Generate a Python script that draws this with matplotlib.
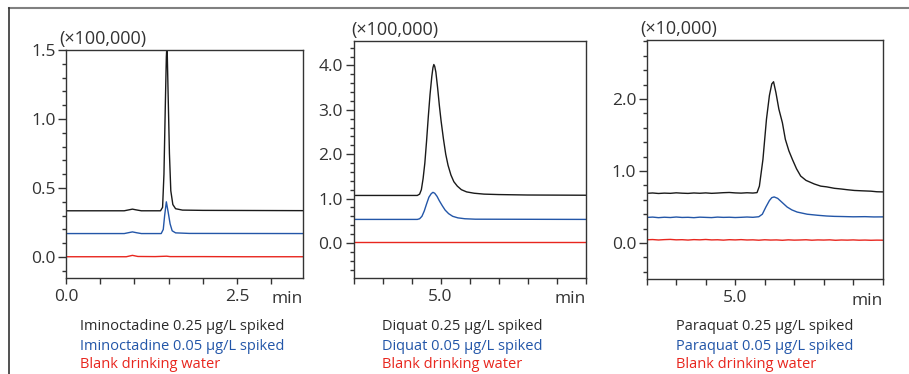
import numpy as np
import matplotlib.pyplot as plt
from matplotlib.lines import Line2D
from matplotlib.ticker import MultipleLocator, FixedLocator, FixedFormatter

plt.rcParams['font.family'] = ['Open Sans', 'DejaVu Sans']

BLACK = '#1a1a1a'
BLUE = '#2356a8'
RED = '#e8261e'
TXT = '#333333'

# ---- Iminoctadine (x100,000)
imi_t_hi = [0.0, 0.85, 0.93, 0.97, 1.02, 1.10, 1.38, 1.41, 1.43, 1.45, 1.465, 1.475, 1.49, 1.51, 1.53, 1.56, 1.60, 1.70, 2.0, 3.5]
imi_hi = [0.335, 0.335, 0.343, 0.347, 0.342, 0.335, 0.335, 0.36, 0.60, 1.10, 1.45, 1.55, 1.20, 0.75, 0.48, 0.38, 0.35, 0.34, 0.338, 0.336]
imi_t_lo = [0.0, 0.85, 0.93, 0.97, 1.03, 1.10, 1.39, 1.42, 1.44, 1.465, 1.49, 1.52, 1.55, 1.60, 1.80, 3.5]
imi_lo = [0.170, 0.170, 0.178, 0.182, 0.176, 0.170, 0.170, 0.20, 0.30, 0.40, 0.33, 0.24, 0.19, 0.175, 0.171, 0.170]
imi_t_bl = [0.0, 0.88, 0.97, 1.05, 1.30, 1.47, 1.52, 2.0, 2.6, 3.5]
imi_bl = [0.002, 0.002, 0.012, 0.004, 0.003, 0.006, 0.003, 0.003, 0.002, 0.002]

# ---- Diquat (x100,000)
diq_t_hi = [3.5, 4.60, 4.64, 4.67, 4.70, 4.73, 4.76, 4.79, 4.82, 4.85, 4.87, 4.885, 4.90, 4.92, 4.95, 4.98,
            5.01, 5.05, 5.09, 5.13, 5.18, 5.23, 5.29, 5.36, 5.45, 5.58, 5.75, 6.0, 6.5, 7.5]
diq_hi = [1.07, 1.07, 1.10, 1.20, 1.45, 1.80, 2.30, 2.85, 3.35, 3.75, 3.95, 4.02, 3.98, 3.85, 3.50, 3.10,
          2.75, 2.35, 2.00, 1.75, 1.53, 1.38, 1.28, 1.20, 1.15, 1.12, 1.10, 1.09, 1.08, 1.075]
diq_t_lo = [3.5, 4.60, 4.64, 4.68, 4.72, 4.76, 4.80, 4.84, 4.87, 4.90, 4.94, 4.98, 5.03, 5.08, 5.14, 5.21,
            5.30, 5.42, 5.60, 7.5]
diq_lo = [0.53, 0.53, 0.545, 0.60, 0.72, 0.88, 1.03, 1.11, 1.14, 1.12, 1.05, 0.95, 0.84, 0.74, 0.66, 0.60,
          0.565, 0.545, 0.535, 0.53]
diq_t_bl = [3.5, 5.0, 7.5]
diq_bl = [0.01, 0.01, 0.01]

# ---- Paraquat (x10,000)
par_t_hi = [3.5, 3.6, 3.7, 3.8, 3.9, 4.0, 4.1, 4.2, 4.3, 4.4, 4.5, 4.6, 4.7, 4.8, 4.9, 5.0, 5.1, 5.2, 5.3, 5.37,
            5.41, 5.47, 5.53, 5.58, 5.62, 5.65, 5.69, 5.74, 5.80, 5.85, 5.91, 5.97, 6.04, 6.11, 6.2, 6.34, 6.45,
            6.55, 6.68, 6.8, 6.9, 7.02, 7.15, 7.3, 7.4, 7.5]
par_hi = [0.690, 0.695, 0.688, 0.693, 0.690, 0.697, 0.692, 0.689, 0.695, 0.691, 0.696, 0.690, 0.694, 0.699, 0.702, 0.696, 0.693, 0.698, 0.694, 0.700,
          0.79, 1.16, 1.72, 2.05, 2.21, 2.24, 2.09, 1.86, 1.67, 1.44, 1.28, 1.16, 1.03, 0.93, 0.87, 0.82, 0.79,
          0.78, 0.76, 0.75, 0.74, 0.73, 0.725, 0.72, 0.712, 0.71]
par_t_lo = [3.5, 3.6, 3.7, 3.8, 3.9, 4.0, 4.1, 4.2, 4.3, 4.4, 4.5, 4.6, 4.7, 4.8, 4.9, 5.0, 5.1, 5.2, 5.3, 5.40,
            5.46, 5.52, 5.58, 5.62, 5.66, 5.72, 5.80, 5.88, 5.96, 6.05, 6.22, 6.4, 6.55, 6.68, 6.8, 7.0, 7.2, 7.35, 7.5]
par_lo = [0.355, 0.360, 0.352, 0.358, 0.354, 0.361, 0.355, 0.357, 0.352, 0.359, 0.356, 0.353, 0.360, 0.356, 0.358, 0.354, 0.357, 0.361, 0.357, 0.365,
          0.40, 0.50, 0.59, 0.63, 0.64, 0.62, 0.56, 0.50, 0.46, 0.43, 0.40, 0.385, 0.375, 0.37, 0.368, 0.364, 0.366, 0.362, 0.363]
par_t_bl = [3.5, 3.6, 3.7, 3.8, 3.9, 4.0, 4.1, 4.2, 4.3, 4.4, 4.5, 4.6, 4.7, 4.8, 4.9, 5.0, 5.1, 5.2, 5.3, 5.4,
            5.5, 5.6, 5.7, 5.8, 5.9, 6.0, 6.1, 6.2, 6.3, 6.4, 6.5, 6.6, 6.7, 6.8, 6.9, 7.0, 7.1, 7.2, 7.3, 7.4, 7.5]
par_bl = [0.045, 0.048, 0.042, 0.047, 0.050, 0.044, 0.046, 0.041, 0.047, 0.044, 0.049, 0.043, 0.045, 0.040, 0.046, 0.043, 0.047, 0.042, 0.044, 0.039,
          0.045, 0.041, 0.043, 0.038, 0.044, 0.040, 0.042, 0.045, 0.039, 0.043, 0.041, 0.044, 0.038, 0.042, 0.040, 0.043, 0.039, 0.041, 0.038, 0.040, 0.039]

panels = [
    dict(pos=[66/909, 96/374, 237/909, 228/374], xlim=(0, 3.46), ylim=(-0.152, 1.5),
         xticks=[0, 0.5, 1.0, 1.5, 2.0, 2.5, 3.0], xlab={0.0: '0.0', 2.5: '2.5'},
         ymaj=[0.0, 0.5, 1.0, 1.5], ymin=0.1, scale='(×100,000)', sx=-7,
         series=[(imi_t_hi, imi_hi), (imi_t_lo, imi_lo), (imi_t_bl, imi_bl)],
         names=['Iminoctadine 0.25 µg/L spiked', 'Iminoctadine 0.05 µg/L spiked', 'Blank drinking water']),
    dict(pos=[353.5/909, 96/374, 232/909, 237/374], xlim=(3.5, 7.5), ylim=(-0.79, 4.55),
         xticks=[3.5, 4.0, 4.5, 5.0, 5.5, 6.0, 6.5, 7.0, 7.5], xlab={5.0: '5.0'},
         ymaj=[0.0, 1.0, 2.0, 3.0, 4.0], ymin=0.2, scale='(×100,000)', sx=-2,
         series=[(diq_t_hi, diq_hi), (diq_t_lo, diq_lo), (diq_t_bl, diq_bl)],
         names=['Diquat 0.25 µg/L spiked', 'Diquat 0.05 µg/L spiked', 'Blank drinking water']),
    dict(pos=[646.7/909, 95/374, 236/909, 239/374], xlim=(3.5, 7.5), ylim=(-0.5, 2.82),
         xticks=[3.5, 4.0, 4.5, 5.0, 5.5, 6.0, 6.5, 7.0, 7.5], xlab={5.0: '5.0'},
         ymaj=[0.0, 1.0, 2.0], ymin=0.2, scale='(×10,000)', sx=-6,
         series=[(par_t_hi, par_hi), (par_t_lo, par_lo), (par_t_bl, par_bl)],
         names=['Paraquat 0.25 µg/L spiked', 'Paraquat 0.05 µg/L spiked', 'Blank drinking water']),
]
caption_x = [80/909, 382/909, 676/909]
colors = [BLACK, BLUE, RED]

fig = plt.figure(figsize=(9.09, 3.74), dpi=100)

# outer frame lines
fig.add_artist(Line2D([9/909, 1.0], [1 - 8/374, 1 - 8/374], color='#808080', lw=1.5))
fig.add_artist(Line2D([9/909, 9/909], [0, 1 - 8/374], color='#333333', lw=1.2))

for i, p in enumerate(panels):
    ax = fig.add_axes(p['pos'])
    for (t, y), c in zip(p['series'], colors):
        ax.plot(t, y, color=c, lw=1.0)
    ax.set_xlim(p['xlim'])
    ax.set_ylim(p['ylim'])
    ax.xaxis.set_major_locator(FixedLocator(p['xticks']))
    ax.xaxis.set_major_formatter(FixedFormatter([p['xlab'].get(v, '') for v in p['xticks']]))
    ax.yaxis.set_major_locator(FixedLocator(p['ymaj']))
    ax.yaxis.set_major_formatter(FixedFormatter(['%.1f' % v for v in p['ymaj']]))
    ax.yaxis.set_minor_locator(MultipleLocator(p['ymin']))
    ax.tick_params(axis='both', which='both', direction='out', color=TXT, width=1.0,
                   labelsize=12.5, labelcolor=TXT)
    ax.tick_params(axis='x', which='major', length=4, pad=4)
    ax.tick_params(axis='y', which='major', length=5.5, pad=2)
    ax.tick_params(axis='y', which='minor', length=3)
    for s in ax.spines.values():
        s.set_color(TXT)
        s.set_linewidth(1.0)
    w = p['pos'][2] * 909
    ax.text(p['sx'] / w, 1.01, p['scale'], transform=ax.transAxes, fontsize=13,
            color=TXT, ha='left', va='bottom')
    ax.text(1.0, -0.09, 'min', transform=ax.transAxes, fontsize=12.5,
            color=TXT, ha='right', va='center')
    for k, (name, c) in enumerate(zip(p['names'], colors)):
        fig.text(caption_x[i], 1 - (327 + 19 * k) / 374, name, fontsize=10.5,
                 color='#2a2a2a' if k == 0 else (BLUE if k == 1 else RED),
                 ha='left', va='center')

fig.savefig('out.png', dpi=100)
